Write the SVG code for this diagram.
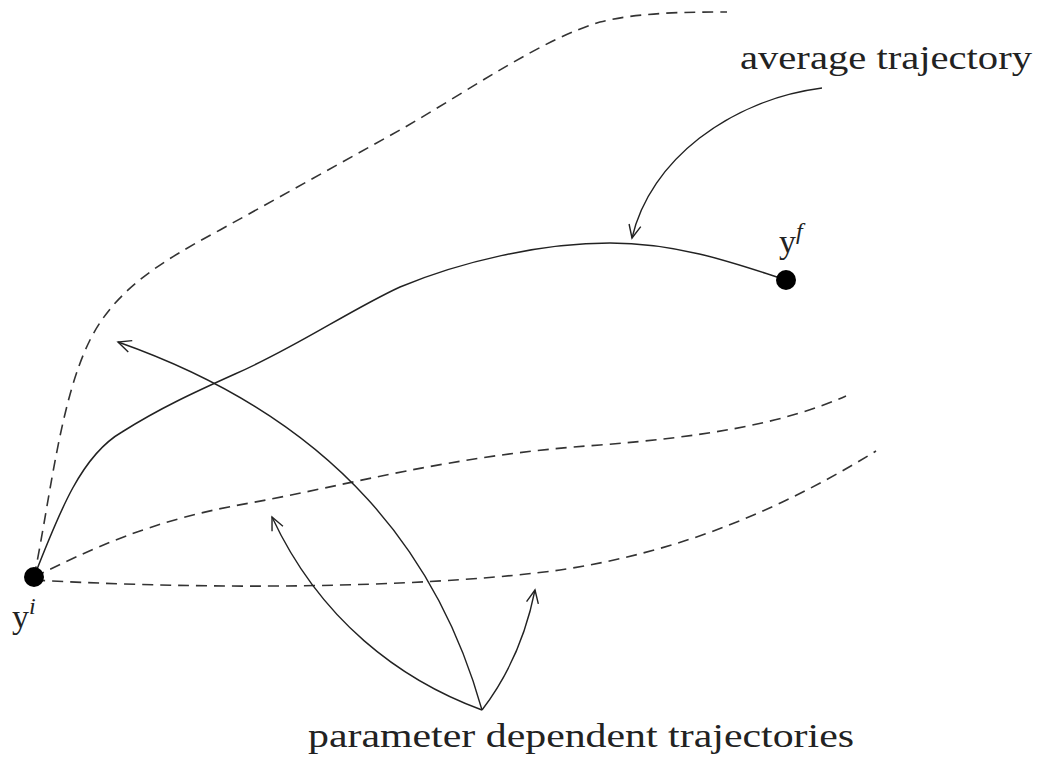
<svg xmlns="http://www.w3.org/2000/svg" width="1037" height="757" viewBox="0 0 1037 757">
<style>
.traj{fill:none;stroke:#222;stroke-width:1.5}
.dash{fill:none;stroke:#333;stroke-width:1.6;stroke-dasharray:11 7}
.arr{fill:none;stroke:#222;stroke-width:1.4;marker-end:url(#open)}
.lbl{font-size:34px;fill:#222}
.it{font-style:italic}
</style>
<defs>
<marker id="open" markerWidth="16" markerHeight="14" refX="0" refY="0" viewBox="-14 -7 16 14" orient="auto" markerUnits="userSpaceOnUse">
<path d="M-13,-6 L0,0 L-13,6" fill="none" stroke="#222" stroke-width="1.4"/>
</marker>
</defs>
<rect width="1037" height="757" fill="#fff"/>
<g id="trajectories">
<path class="dash" d="M34,577 C50,500 60,400 90,340 C115,290 160,262 220,230 L400,130 C470,90 540,40 600,22 C640,12 690,12 727,12"/>
<path class="dash" d="M34,577 C90,550 150,520 250,503 C350,485 450,455 600,445 C700,437 780,425 846,396"/>
<path class="dash" d="M34,580 C250,592 450,585 560,570 C680,552 780,510 876,451"/>
<path class="traj" d="M34,577 C60,510 82,455 122,432 C160,408 195,392 235,374 C295,348 350,310 400,287 C460,262 540,243 610,243 C680,243 740,265 786,280"/>
</g>
<g id="node-yi">
<circle cx="34" cy="577" r="10" fill="#000"/>
<text class="lbl" font-family="Liberation Serif, serif" x="12" y="628">y<tspan class="it" font-size="24" dy="-14">i</tspan></text>
</g>
<g id="node-yf">
<circle cx="786" cy="280" r="10" fill="#000"/>
<text class="lbl" font-family="Liberation Serif, serif" x="779" y="253">y<tspan class="it" font-size="24" dy="-14">f</tspan></text>
</g>
<g id="label-average">
<text class="lbl" font-family="Liberation Serif, serif" x="740" y="69" textLength="292" lengthAdjust="spacingAndGlyphs">average trajectory</text>
</g>
<g id="label-parameter">
<text class="lbl" font-family="Liberation Serif, serif" x="308" y="747" textLength="546" lengthAdjust="spacingAndGlyphs">parameter dependent trajectories</text>
</g>
<g id="connectors">
<path class="arr" d="M822,88 C730,100 650,160 632,238"/>
<path class="arr" d="M482,710 C440,560 340,420 118,342"/>
<path class="arr" d="M482,710 C400,680 320,620 272,517"/>
<path class="arr" d="M482,710 C505,680 525,640 535,590"/>
</g>
</svg>
